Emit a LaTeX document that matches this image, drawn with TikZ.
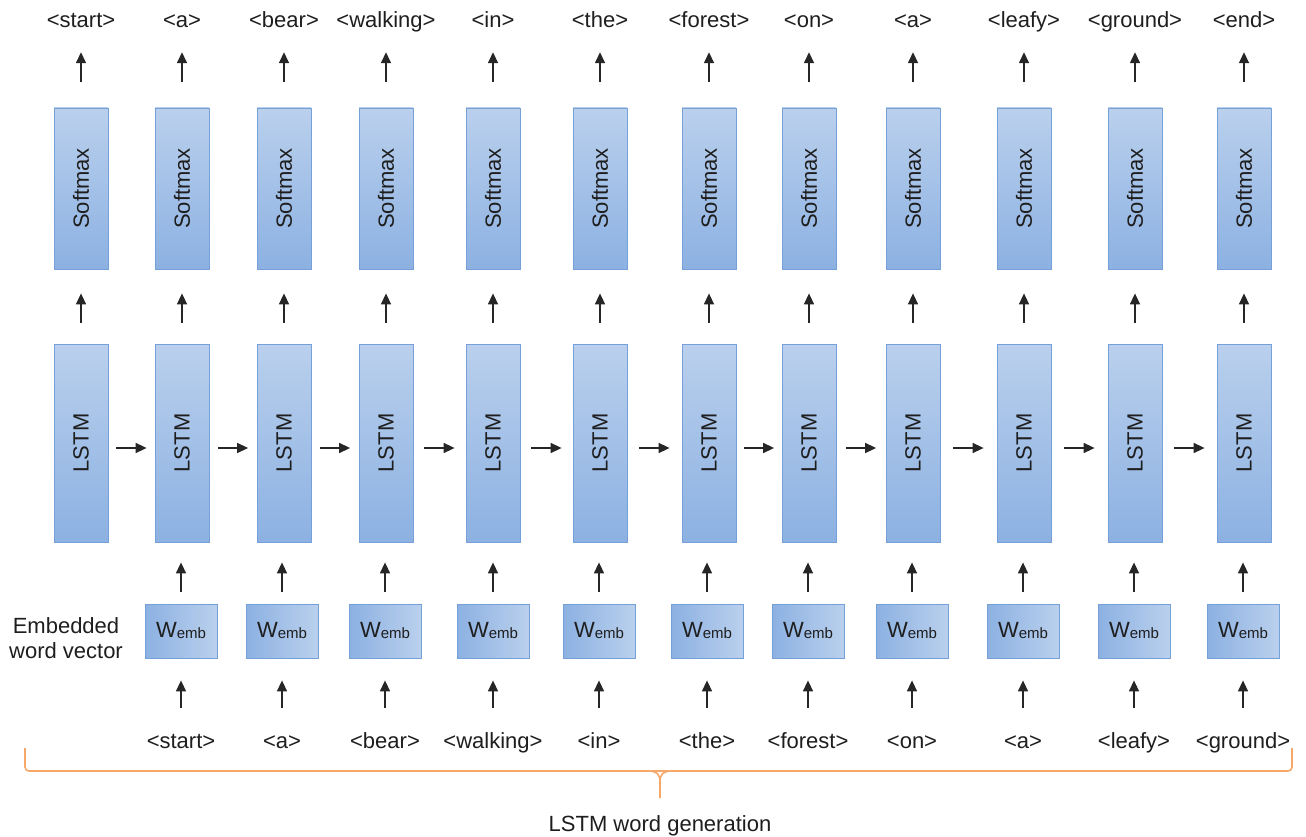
\documentclass[tikz,border=0pt]{standalone}
\usepackage{fontspec}
\setmainfont{Liberation Sans}
\usepackage{graphicx}
\usetikzlibrary{arrows.meta}
\definecolor{boxtop}{RGB}{186,208,237}
\definecolor{boxbot}{RGB}{140,177,226}
\definecolor{boxline}{RGB}{118,160,216}
\definecolor{bracecol}{RGB}{245,168,105}
\definecolor{txt}{RGB}{30,30,30}
\begin{document}
\begin{tikzpicture}[x=1pt,y=-1pt,
  every node/.style={text=txt, font=\fontsize{22}{25}\selectfont},
  lbl/.style={inner sep=0pt, text height=16pt, text depth=5pt, anchor=base},
  smbox/.style={draw=boxline, line width=0.8pt, top color=boxtop, bottom color=boxbot, minimum width=54pt, minimum height=161pt, inner sep=0pt},
  lstmbox/.style={smbox, minimum height=198pt},
  embbox/.style={draw=boxline, line width=0.8pt, left color=boxbot, right color=boxtop, minimum width=72pt, minimum height=54pt, inner sep=0pt},
  arr/.style={-{Triangle[length=11pt,width=10pt]}, line width=1.5pt, draw=black!85},
  bracestyle/.style={draw=bracecol, line width=1.6pt}]
\useasboundingbox (0,0) rectangle (1306,837);

\foreach \x/\t [count=\i] in {81/{<start>},182/{<a>},284/{<bear>},386/{<walking>},493/{<in>},600/{<the>},709/{<forest>},809/{<on>},913/{<a>},1024/{<leafy>},1135/{<ground>},1244/{<end>}} {
  \node[smbox] (s\i) at (\x,188.5) {\rotatebox{90}{Softmax}};
  \node[lstmbox] (l\i) at (\x,443) {\rotatebox{90}{LSTM}};
  \node[lbl] (t\i) at (\x,28) {\t};
}
\foreach \x/\t [count=\i from 2] in {181/{<start>},282/{<a>},385/{<bear>},493/{<walking>},599/{<in>},707/{<the>},808/{<forest>},912/{<on>},1023/{<a>},1134/{<leafy>},1243/{<ground>}} {
  \node[embbox] (w\i) at (\x,631) {W\raisebox{-1pt}{\fontsize{15}{15}\selectfont emb}};
  \node[lbl] (b\i) at (\x,748) {\t};
}

\foreach \i in {1,...,12} {
  \draw[arr, shorten <=26pt, shorten >=19pt] (s\i) -- (t\i);
  \draw[arr, shorten <=21pt, shorten >=24pt] (l\i) -- (s\i);
}
\foreach \i in {2,...,12} {
  \draw[arr, shorten <=12pt, shorten >=20pt] (w\i.north) -- (w\i.north |- l\i.south);
  \draw[arr, shorten <=24pt, shorten >=22pt] (b\i) -- (w\i);
}
\foreach \i/\j/\g in {1/2/8,2/3/8.5,3/4/8.5,4/5/11,5/6/11,6/7/12,7/8/7.5,8/9/9.5,9/10/13,10/11/13,11/12/12} {
  \draw[arr, shorten <=\g pt, shorten >=\g pt] ([yshift=-5pt]l\i.east) -- ([yshift=-5pt]l\j.west);
}

\node[inner sep=0pt, align=center] (ewv) at (66,638) {Embedded\\word vector};

\coordinate (bl) at (25,748);
\coordinate (br) at (1292,748);
\coordinate (tip) at (660,798);
\draw[bracestyle, rounded corners=4pt] (bl) -- (25,771) -- (1292,771) -- (br);
\draw[bracestyle] (648,771) .. controls (657,771) and (660,774) .. (660,782) -- (tip);
\draw[bracestyle] (672,771) .. controls (663,771) and (660,774) .. (660,782);
\node[anchor=base] (cap) at (660,831) {LSTM word generation};
\end{tikzpicture}
\end{document}
